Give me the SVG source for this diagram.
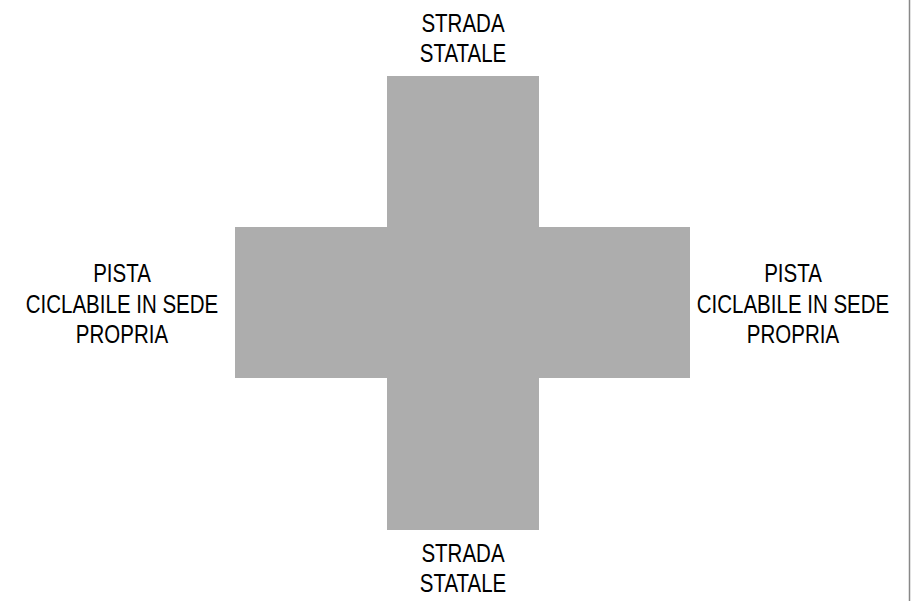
<svg xmlns="http://www.w3.org/2000/svg" width="919" height="601" viewBox="0 0 919 601">
<style>
.lbl{font-family:"Liberation Sans",Arial,sans-serif;font-size:25px;fill:#000;text-anchor:middle}
</style>
<rect width="919" height="601" fill="#fff"/>
<g id="incrocio">
<polygon points="387,76 539,76 539,227 690,227 690,378 539,378 539,530 387,530 387,378 235,378 235,227 387,227" fill="#adadad"/>
</g>
<line id="bordo" x1="909.5" y1="0" x2="909.5" y2="601" stroke="#888" stroke-width="1.5"/>
<g id="strada-nord" transform="translate(463,0) scale(0.82,1)">
<text class="lbl" x="0" y="32">STRADA</text>
<text class="lbl" x="0" y="62">STATALE</text>
</g>
<g id="strada-sud" transform="translate(463,0) scale(0.82,1)">
<text class="lbl" x="0" y="562">STRADA</text>
<text class="lbl" x="0" y="592">STATALE</text>
</g>
<g id="pista-ovest" transform="translate(122,0) scale(0.82,1)">
<text class="lbl" x="0" y="282">PISTA</text>
<text class="lbl" x="0" y="313">CICLABILE IN SEDE</text>
<text class="lbl" x="0" y="343">PROPRIA</text>
</g>
<g id="pista-est" transform="translate(793,0) scale(0.82,1)">
<text class="lbl" x="0" y="282">PISTA</text>
<text class="lbl" x="0" y="313">CICLABILE IN SEDE</text>
<text class="lbl" x="0" y="343">PROPRIA</text>
</g>
</svg>
